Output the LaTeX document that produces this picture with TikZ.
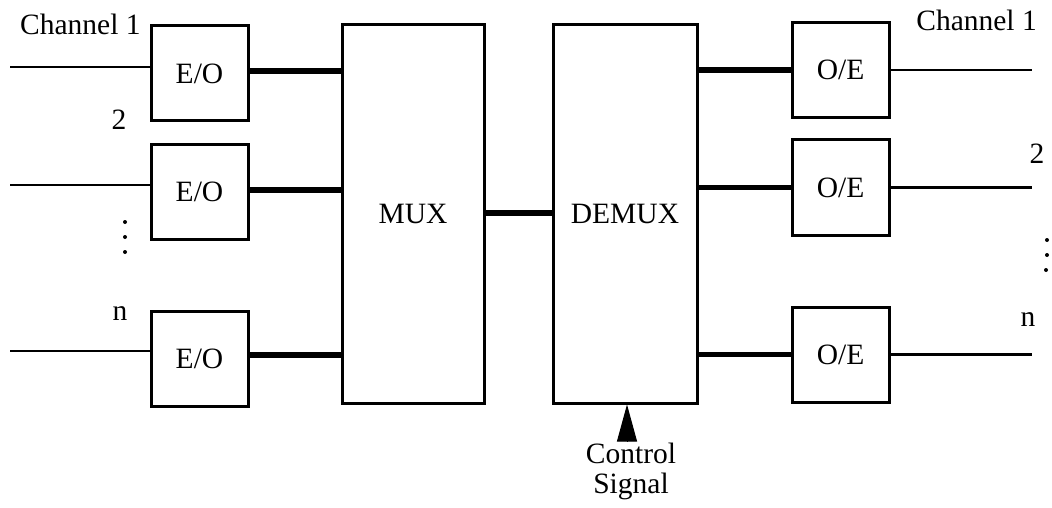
\documentclass[tikz,border=0pt]{standalone}
\usepackage{fontspec}
\setmainfont{Liberation Serif}
\usetikzlibrary{arrows.meta}
\begin{document}
\begin{tikzpicture}[x=1pt,y=-1pt,
  lbl/.style={font=\fontsize{29.5}{30}\selectfont, inner sep=0pt},
  conv/.style={draw, line width=3pt, minimum width=97pt, minimum height=95pt, inner sep=0pt, lbl},
  unit/.style={draw, line width=3pt, minimum width=142pt, minimum height=378pt, inner sep=0pt, lbl},
  wire/.style={line width=2.2pt},
  bus/.style={line width=5.5pt},
  dotmark/.style={circle, fill, inner sep=0pt, minimum size=4pt}]
\useasboundingbox (0,0) rectangle (1052,508);

% converters and multiplexers
\node[conv] (eo1) at (199.5,73.5) {E/O};
\node[conv] (eo2) at (199.5,192) {E/O};
\node[conv] (eo3) at (199.5,358.5) {E/O};
\node[unit] (mux) at (413,214) {MUX};
\node[unit, minimum width=144pt] (demux) at (625,214) {DEMUX};
\node[conv] (oe1) at (840.5,70) {O/E};
\node[conv] (oe2) at (840.5,187.5) {O/E};
\node[conv] (oe3) at (840.5,354.5) {O/E};

% input lines
\coordinate (in1) at (10,67);
\coordinate (in2) at (10,185);
\coordinate (in3) at (10,351);
\draw[wire] (in1) -- (in1 -| eo1.west);
\draw[wire] (in2) -- (in2 -| eo2.west);
\draw[wire] (in3) -- (in3 -| eo3.west);

% optical links into the multiplexer
\draw[bus] ([yshift=2.5pt]eo1.east) -- ([yshift=2.5pt]eo1.east -| mux.west);
\draw[bus] ([yshift=2pt]eo2.east) -- ([yshift=2pt]eo2.east -| mux.west);
\draw[bus] ([yshift=3.5pt]eo3.east) -- ([yshift=3.5pt]eo3.east -| mux.west);

% trunk
\draw[bus, line width=6pt] ([yshift=1pt]mux.east) -- ([yshift=1pt]demux.west);

% optical links out of the demultiplexer
\draw[bus] (oe1.west -| demux.east) -- (oe1.west);
\draw[bus] (oe2.west -| demux.east) -- (oe2.west);
\draw[bus] (oe3.west -| demux.east) -- (oe3.west);

% output lines
\coordinate (out1) at (1032,70);
\coordinate (out2) at (1032,187.5);
\coordinate (out3) at (1032,354.5);
\draw[wire] (oe1.east) -- (out1);
\draw[wire] (oe2.east) -- (out2);
\draw[wire] (oe3.east) -- (out3);

% channel labels, left
\node[lbl, anchor=base west] (chl) at (20,35) {Channel 1};
\node[lbl, anchor=base] (l2) at (119,130) {2};
\node[dotmark] (ld1) at (125,222) {};
\node[dotmark] (ld2) at (125,237) {};
\node[dotmark] (ld3) at (125,252) {};
\node[lbl, anchor=base] (ln) at (120,320) {n};

% channel labels, right
\node[lbl, anchor=base east] (chr) at (1037,31) {Channel 1};
\node[lbl, anchor=base] (r2) at (1037,164) {2};
\node[dotmark] (rd1) at (1047,240) {};
\node[dotmark] (rd2) at (1047,255) {};
\node[dotmark] (rd3) at (1046,270) {};
\node[lbl, anchor=base] (rn) at (1028,326) {n};

% control input
\coordinate (ctl) at (627,441);
\draw[line width=1pt, -{Triangle[width=20pt,length=37pt]}] (ctl) -- (ctl |- demux.south);
\node[lbl, align=center, anchor=north] (ctltxt) at (631,443) {Control\\Signal};
\end{tikzpicture}
\end{document}
